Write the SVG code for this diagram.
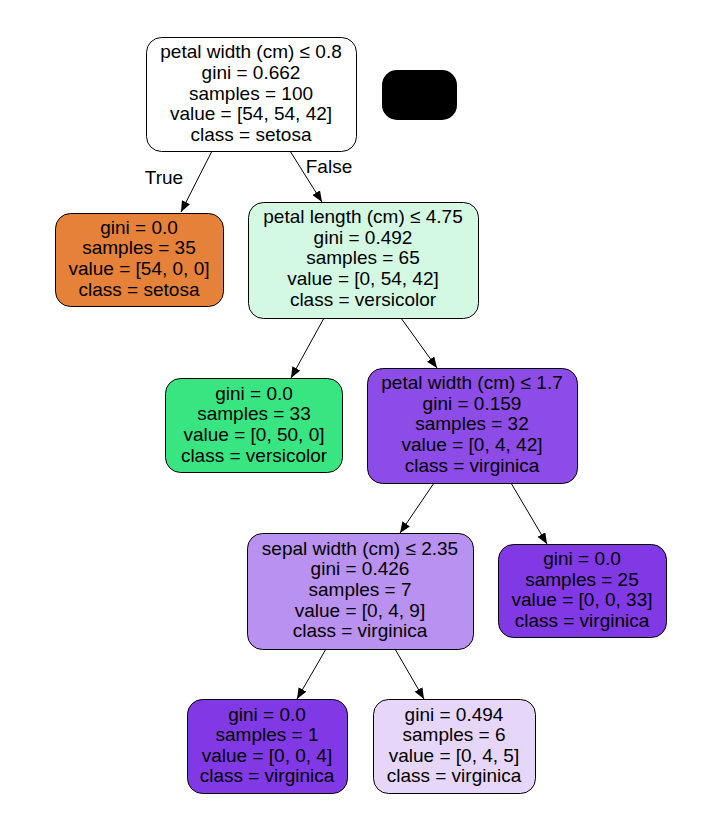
<svg xmlns="http://www.w3.org/2000/svg" width="719" height="823" viewBox="0 0 719 823">
<style>
.n{stroke:#000;stroke-width:1}
text{font-family:"Liberation Sans",Arial,sans-serif;font-size:19px;fill:#000;text-anchor:middle}
.e{stroke:#000;stroke-width:1;fill:none}
</style>
<defs>
<marker id="ah" viewBox="0 0 11 9" refX="11" refY="4.5" markerWidth="11" markerHeight="9" markerUnits="userSpaceOnUse" orient="auto">
<path d="M0,0 L11,4.5 L0,9 Z" fill="#000"/>
</marker>
</defs>
<rect width="719" height="823" fill="#fff"/>
<g id="edges">
<line class="e" x1="212" y1="151" x2="181" y2="212" marker-end="url(#ah)"/>
<line class="e" x1="290" y1="151" x2="322" y2="202" marker-end="url(#ah)"/>
<line class="e" x1="324" y1="318" x2="291" y2="378" marker-end="url(#ah)"/>
<line class="e" x1="401" y1="318" x2="437" y2="368" marker-end="url(#ah)"/>
<line class="e" x1="434" y1="483" x2="400" y2="533" marker-end="url(#ah)"/>
<line class="e" x1="511" y1="483" x2="547" y2="544" marker-end="url(#ah)"/>
<line class="e" x1="326" y1="649" x2="297" y2="699" marker-end="url(#ah)"/>
<line class="e" x1="395" y1="649" x2="424" y2="699" marker-end="url(#ah)"/>
<text x="164" y="184">True</text>
<text x="329" y="173">False</text>
</g>
<g id="node0">
<rect class="n" x="146.5" y="37.5" width="210" height="114" rx="15" fill="#ffffff"/>
<text x="251" y="58">petal width (cm) ≤ 0.8</text>
<text x="251" y="79">gini = 0.662</text>
<text x="251" y="100">samples = 100</text>
<text x="251" y="120">value = [54, 54, 42]</text>
<text x="251" y="141">class = setosa</text>
</g>
<g id="hidden">
<rect x="382" y="70" width="75" height="50" rx="15" fill="#000"/>
</g>
<g id="node1">
<rect class="n" x="55.5" y="213.5" width="168" height="93" rx="15" fill="#e58139"/>
<text x="139" y="234">gini = 0.0</text>
<text x="139" y="254">samples = 35</text>
<text x="139" y="275">value = [54, 0, 0]</text>
<text x="139" y="296">class = setosa</text>
</g>
<g id="node2">
<rect class="n" x="248.5" y="202.5" width="230" height="116" rx="15" fill="#d3f9e3"/>
<text x="363" y="223">petal length (cm) ≤ 4.75</text>
<text x="363" y="244">gini = 0.492</text>
<text x="363" y="264">samples = 65</text>
<text x="363" y="285">value = [0, 54, 42]</text>
<text x="363" y="306">class = versicolor</text>
</g>
<g id="node3">
<rect class="n" x="165.5" y="378.5" width="177" height="94" rx="15" fill="#39e581"/>
<text x="254" y="400">gini = 0.0</text>
<text x="254" y="420">samples = 33</text>
<text x="254" y="441">value = [0, 50, 0]</text>
<text x="254" y="462">class = versicolor</text>
</g>
<g id="node4">
<rect class="n" x="367.5" y="368.5" width="210" height="115" rx="15" fill="#8d4ce7"/>
<text x="472" y="389">petal width (cm) ≤ 1.7</text>
<text x="472" y="410">gini = 0.159</text>
<text x="472" y="430">samples = 32</text>
<text x="472" y="451">value = [0, 4, 42]</text>
<text x="472" y="472">class = virginica</text>
</g>
<g id="node5">
<rect class="n" x="247.5" y="533.5" width="226" height="116" rx="15" fill="#b991f1"/>
<text x="360" y="555">sepal width (cm) ≤ 2.35</text>
<text x="360" y="575">gini = 0.426</text>
<text x="360" y="596">samples = 7</text>
<text x="360" y="617">value = [0, 4, 9]</text>
<text x="360" y="637">class = virginica</text>
</g>
<g id="node6">
<rect class="n" x="498.5" y="544.5" width="168" height="93" rx="15" fill="#8139e5"/>
<text x="582" y="565">gini = 0.0</text>
<text x="582" y="586">samples = 25</text>
<text x="582" y="606">value = [0, 0, 33]</text>
<text x="582" y="627">class = virginica</text>
</g>
<g id="node7">
<rect class="n" x="187.5" y="699.5" width="160" height="94" rx="15" fill="#8139e5"/>
<text x="267" y="721">gini = 0.0</text>
<text x="267" y="741">samples = 1</text>
<text x="267" y="762">value = [0, 0, 4]</text>
<text x="267" y="782">class = virginica</text>
</g>
<g id="node8">
<rect class="n" x="373.5" y="699.5" width="162" height="94" rx="15" fill="#e6d7fa"/>
<text x="454" y="721">gini = 0.494</text>
<text x="454" y="741">samples = 6</text>
<text x="454" y="762">value = [0, 4, 5]</text>
<text x="454" y="782">class = virginica</text>
</g>
</svg>
